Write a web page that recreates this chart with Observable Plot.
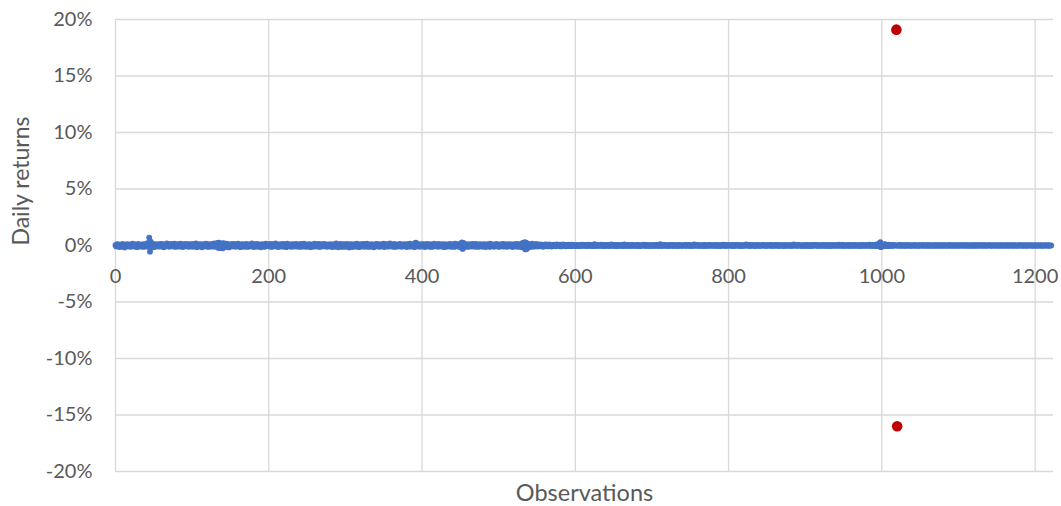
<!DOCTYPE html>
<html>
<head>
<meta charset="utf-8">
<script src="https://cdn.jsdelivr.net/npm/d3@7"></script>
<script src="https://cdn.jsdelivr.net/npm/@observablehq/plot@0.6"></script>
<style>
  html, body { margin: 0; padding: 0; background: #ffffff; }
</style>
</head>
<body>
<div id="chart"></div>
<script>
// Daily returns in basis points (observations 0-299)
const returnsBp0 = [
  3,-8,12,-5,9,-14,6,2,-11,15,-3,7,-18,10,4,-6,13,-9,1,8,
  -12,5,17,-4,-9,11,-2,6,-15,9,14,-7,3,-10,8,-1,12,-13,5,10,
  -6,18,-11,22,70,-55,35,-20,16,-8,11,-14,4,9,-5,13,-10,7,-3,15,
  -9,6,12,-16,3,8,-7,19,-4,10,-12,5,14,-2,-8,11,-6,16,-13,2,
  9,-5,13,-10,4,17,-8,6,-14,11,1,-7,15,-3,8,-11,12,-1,-9,6,
  14,-12,3,10,-6,18,-15,7,2,-9,13,-4,9,-16,5,11,-2,-8,16,-5,
  8,-13,12,-3,6,-10,15,-7,4,19,-12,9,-5,24,-20,26,-22,13,-9,18,
  -25,21,-14,8,-11,16,-6,10,-17,5,12,-3,-9,14,-7,3,11,-12,6,-4,
  17,-8,9,-15,2,13,-6,10,-11,7,-2,15,-13,4,8,-9,12,-5,19,-10,
  6,-14,11,3,-7,14,-12,8,-3,10,-16,5,13,-8,2,-11,16,-4,9,-6,
  12,-9,4,15,-13,7,-2,11,-8,18,-5,3,-14,9,6,-10,13,-3,-7,14,
  -11,8,2,-15,16,-6,10,-4,7,-12,13,-1,-9,12,-7,5,15,-10,3,-5,
  11,-13,6,14,-4,-9,17,-8,5,-12,9,2,-6,13,-15,8,-3,10,-11,4,
  16,-7,-2,12,-10,6,14,-13,3,9,-5,11,-8,15,-4,2,-12,7,10,-6,
  -9,13,5,-14,8,-3,12,-11,19,-7,4,-16,10,-2,14,-9,6,-13,11,-4
];
// observations 300-599
const returnsBp1 = [
  8,-12,15,-6,3,-17,11,-4,9,-14,6,13,-8,2,-10,16,-5,7,-15,10,
  -3,12,-9,5,14,-11,4,-7,17,-2,-13,9,6,-10,12,-4,8,-16,3,11,
  -8,15,-5,10,-12,2,13,-9,7,-3,16,-14,5,9,-6,11,-10,4,18,-7,
  12,-4,-11,8,14,-13,6,-2,10,-9,3,15,-6,-12,9,5,-8,13,-3,7,
  -14,11,2,-7,16,-10,6,12,-5,9,-15,20,25,-8,14,-4,7,-12,10,-6,
  13,-9,4,11,-14,8,-2,15,-7,5,-11,12,3,-13,9,-5,16,-8,6,-3,
  10,-12,14,-6,2,-9,13,-4,8,-15,11,5,-10,7,-3,12,-8,15,-11,4,
  -6,9,-13,16,3,-8,12,-5,10,-14,7,18,28,-30,22,-16,9,-7,13,-10,
  5,-12,11,-3,8,-9,14,-6,2,-11,15,-4,7,-13,10,-2,12,-8,4,-10,
  13,-5,9,-14,6,11,-7,3,-12,16,-9,5,-4,10,-11,8,-2,14,-6,7,
  -13,9,4,-8,12,-3,15,-10,6,-5,11,-12,2,9,-7,13,-4,8,-14,10,
  -6,12,-9,3,14,-11,7,-4,10,-13,18,-16,22,-20,30,-35,26,-28,15,-12,
  9,-14,12,-6,16,-10,5,-8,11,-4,13,-9,6,-3,10,-7,2,8,-11,5,
  -6,9,-3,7,-8,4,10,-5,2,-9,6,-2,8,-6,3,-7,9,-4,5,-1,
  7,-8,4,-3,9,-5,2,6,-7,3,-4,8,-2,5,-6,1,7,-3,4,-5
];
// observations 600-899
const returnsBp2 = [
  3,-5,6,-2,4,-6,1,5,-3,7,-4,2,-1,6,-5,3,-2,8,-4,1,
  5,-3,2,-6,4,12,-2,3,-5,6,-1,4,-4,2,7,-3,1,-6,5,-2,
  3,-4,6,-1,2,-5,4,9,-3,1,-2,5,-4,3,-6,2,6,-1,-3,4,
  -2,5,-5,3,10,-3,1,-4,6,-2,4,-1,2,-5,3,6,-3,1,-2,4,
  -4,2,5,-3,1,-6,4,-1,3,7,-2,2,-4,5,-1,3,-5,2,4,-3,
  1,-2,6,-4,3,-1,5,-3,2,-5,4,11,-2,1,-4,3,6,-2,2,-3,
  4,-5,2,-1,5,-3,3,-2,6,-4,1,4,-3,2,-5,5,-1,3,-2,1,
  -3,4,-1,6,-2,3,-4,2,5,-3,1,-2,4,-5,2,9,-1,3,-4,2,
  5,-2,1,-3,4,-1,2,-5,3,6,-2,1,-4,3,-1,5,-3,2,4,-2,
  -1,3,-4,2,6,-3,1,-2,4,-5,3,-1,2,8,-3,1,-2,5,-4,2,
  3,-1,4,-3,2,-2,5,-4,1,3,-2,6,-1,2,-3,4,-5,2,1,-2,
  4,-3,2,10,-1,3,-4,2,-2,5,-3,1,4,-2,3,-5,2,-1,6,-3,
  1,-2,4,-3,2,5,-1,3,-4,2,-2,4,-1,3,-3,2,6,-4,1,-2,
  3,-1,5,-3,2,-2,4,-4,1,3,-1,2,-5,4,-2,3,1,-3,2,-1,
  4,-2,3,-4,2,9,-1,3,-3,2,-2,5,-1,4,-3,1,-2,3,-4,2
];
// observations 900-1221 (null = the two outliers drawn in red)
const returnsBp3 = [
  -3,5,-2,4,-5,3,1,-4,6,-2,3,-3,2,5,-1,4,-4,2,-2,3,
  1,-3,4,-2,6,-1,2,-4,3,-2,5,-3,1,2,-5,4,-1,3,-2,1,
  4,-2,2,-3,8,-1,3,-4,2,5,-2,1,-3,4,-1,2,-2,6,-3,1,
  3,-4,2,-1,5,-2,3,-3,1,4,-2,2,-5,3,-1,6,-2,1,-3,2,
  4,-3,2,-1,7,-4,3,-2,5,-1,2,-6,8,-3,10,-5,14,-8,30,-15,
  6,-7,4,12,-5,9,-3,2,-6,8,5,-4,3,-2,6,-3,4,-1,2,null,
  null,-4,3,5,-3,2,-1,4,-2,3,-3,1,2,-2,4,-1,3,-2,1,-3,
  2,-1,3,-2,4,-1,1,-3,2,-2,3,-1,1,2,-2,3,-1,1,-2,2,
  -1,3,-2,1,2,-3,1,-1,4,-2,2,-1,1,-2,3,-1,2,-2,1,-1,
  2,-2,3,-1,1,-3,2,-1,2,1,-2,3,-1,1,-2,2,-1,3,-2,1,
  -1,2,-2,1,3,-1,1,-2,2,-1,1,2,-2,1,-1,3,-2,1,-1,2,
  -2,1,2,-1,1,-2,3,-1,2,-1,1,-2,2,1,-1,2,-3,1,-1,2,
  1,-1,2,-2,1,-1,3,-1,1,-2,2,-1,1,1,-2,2,-1,2,-1,1,
  -2,1,2,-1,1,-2,2,-1,1,-1,2,-2,1,2,-1,1,-2,1,-1,2,
  -1,2,-1,1,-2,1,2,-1,1,-2,2,-1,1,-1,2,-1,1,-2,1,-1,
  2,-1,1,-2,1,1,-1,2,-1,1,-2,1,-1,2,-1,1,-1,2,-2,1,
  -1,1
];
// outliers (percent)
const outlierObs = [1019, 1020];
const outlierPct = [19.1, -16.0];

const yTicks = [-20, -15, -10, -5, 0, 5, 10, 15, 20];
const xTicks = [0, 200, 400, 600, 800, 1000, 1200];
const xTitle = "Observations";
const yTitle = "Daily returns";

const allBp = [...returnsBp0, ...returnsBp1, ...returnsBp2, ...returnsBp3];
const blue = allBp.map((v, i) => ({obs: i, pct: v == null ? null : v / 100})).filter(d => d.pct != null);
const red = outlierObs.map((o, i) => ({obs: o, pct: outlierPct[i]}));

const textColor = "#595959";
const gridColor = "#D9D9D9";

const chart = Plot.plot({
  width: 1061,
  height: 506,
  marginLeft: 115,
  marginRight: 8,
  marginTop: 19,
  marginBottom: 35,
  style: {fontFamily: "Lato, 'Open Sans', sans-serif", color: textColor, background: "#ffffff"},
  x: {domain: [0, 1224]},
  y: {domain: [-20, 20]},
  marks: [
    Plot.gridY(yTicks, {stroke: gridColor, strokeOpacity: 1, strokeWidth: 1.3}),
    Plot.gridX(xTicks, {stroke: gridColor, strokeOpacity: 1, strokeWidth: 1.3}),
    Plot.ruleY([0], {stroke: "#BFBFBF", strokeWidth: 1.3}),
    Plot.axisY(yTicks, {tickSize: 0, tickPadding: 23, tickFormat: d => d + "%", fontSize: 20, fill: textColor, label: null}),
    Plot.axisX({ticks: [], label: null}),
    Plot.text(xTicks, {x: d => d, y: () => 0, text: d => String(d), dy: 31, fontSize: 20, fill: textColor, lineAnchor: "middle"}),
    Plot.text([xTitle], {frameAnchor: "bottom", text: d => d, dy: 22, fontSize: 23.5, fill: textColor, lineAnchor: "middle"}),
    Plot.text([yTitle], {frameAnchor: "left", text: d => d, dx: -94, rotate: -90, fontSize: 23, fill: textColor, lineAnchor: "middle"}),
    Plot.dot(blue, {x: "obs", y: "pct", r: 2.9, fill: "#4472C4", stroke: null}),
    Plot.dot(red, {x: "obs", y: "pct", r: 5.3, fill: "#C00000", stroke: null})
  ]
});
document.getElementById("chart").appendChild(chart);
</script>
</body>
</html>
